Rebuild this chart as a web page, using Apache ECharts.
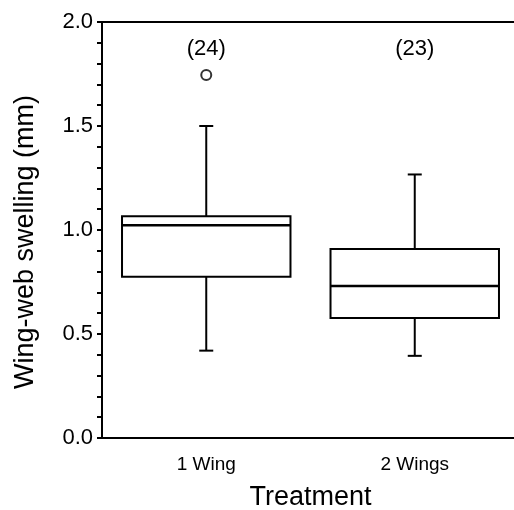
<!DOCTYPE html>
<html>
<head>
<meta charset="utf-8">
<script src="https://cdn.jsdelivr.net/npm/echarts@6/dist/echarts.min.js"></script>
<style>
  html, body { margin: 0; padding: 0; background: #fff; }
  #main { width: 514px; height: 510px; }
</style>
</head>
<body>
<div id="main"></div>
<script>
// data
var treatments = ['1 Wing', '2 Wings'];
var lowWhisker = [0.42, 0.395];
var q1 = [0.775, 0.577];
var medians = [1.023, 0.731];
var q3 = [1.066, 0.909];
var highWhisker = [1.50, 1.267];
var outliers = [[0, 1.745]];
var sampleSizes = ['(24)', '(23)'];
var countLabelY = 1.87;
var yTicks = [0, 0.5, 1.0, 1.5, 2.0];

var font = 'Liberation Sans, Arial, Helvetica, sans-serif';

var boxData = treatments.map(function (t, i) {
    return [i, lowWhisker[i], q1[i], medians[i], q3[i], highWhisker[i]];
});
var countData = sampleSizes.map(function (s, i) {
    return { value: [i, countLabelY], label: { formatter: s } };
});

function renderBox(params, api) {
    var x = api.value(0);
    var lo = api.coord([x, api.value(1)]);
    var b1 = api.coord([x, api.value(2)]);
    var md = api.coord([x, api.value(3)]);
    var b3 = api.coord([x, api.value(4)]);
    var hi = api.coord([x, api.value(5)]);
    var bw = api.size([1, 0])[0] * 0.808;
    var cap = 14;
    var cx = lo[0];
    var st = { stroke: '#000', lineWidth: 2, fill: null };
    return {
        type: 'group',
        children: [
            { type: 'line', shape: { x1: cx, y1: hi[1], x2: cx, y2: b3[1] }, style: st },
            { type: 'line', shape: { x1: cx - cap / 2, y1: hi[1], x2: cx + cap / 2, y2: hi[1] }, style: st },
            { type: 'line', shape: { x1: cx, y1: b1[1], x2: cx, y2: lo[1] }, style: st },
            { type: 'line', shape: { x1: cx - cap / 2, y1: lo[1], x2: cx + cap / 2, y2: lo[1] }, style: st },
            { type: 'rect', shape: { x: cx - bw / 2, y: b3[1], width: bw, height: b1[1] - b3[1] }, style: st },
            { type: 'line', shape: { x1: cx - bw / 2, y1: md[1], x2: cx + bw / 2, y2: md[1] }, style: { stroke: '#000', lineWidth: 2.5 } }
        ]
    };
}

var myChart = echarts.init(document.getElementById('main'));
var options = {
    animation: false,
    backgroundColor: '#fff',
    grid: { left: 102, right: -5, top: 22, bottom: 72, outerBoundsMode: 'none' },
    xAxis: [{
        type: 'category',
        data: treatments,
        boundaryGap: true,
        name: 'Treatment',
        nameLocation: 'middle',
        nameGap: 46,
        nameTextStyle: { fontFamily: font, fontSize: 27, color: '#000' },
        axisLine: { show: true, lineStyle: { color: '#000', width: 2 } },
        axisTick: { show: false },
        axisLabel: { margin: 17, fontFamily: font, fontSize: 19, color: '#000' },
        splitLine: { show: false }
    }, {
        type: 'category',
        data: treatments,
        position: 'top',
        axisLine: { show: true, lineStyle: { color: '#000', width: 2 } },
        axisTick: { show: false },
        axisLabel: { show: false },
        splitLine: { show: false }
    }],
    yAxis: {
        type: 'value',
        min: yTicks[0],
        max: yTicks[yTicks.length - 1],
        interval: 0.5,
        name: 'Wing-web swelling (mm)',
        nameLocation: 'middle',
        nameRotate: 90,
        nameGap: 63,
        nameTextStyle: { fontFamily: font, fontSize: 27, color: '#000', padding: [0, 24, 0, 0] },
        axisLine: { show: true, lineStyle: { color: '#000', width: 2 } },
        axisTick: { show: true, inside: false, length: 5, lineStyle: { color: '#000', width: 2 } },
        minorTick: { show: true, splitNumber: 5, length: 5, lineStyle: { color: '#000', width: 2 } },
        axisLabel: {
            margin: 9, fontFamily: font, fontSize: 22, color: '#000',
            formatter: function (v) { return v.toFixed(1); }
        },
        splitLine: { show: false }
    },
    series: [{
        type: 'custom',
        renderItem: renderBox,
        data: boxData,
        encode: { x: 0, y: [1, 2, 3, 4, 5] },
        z: 3
    }, {
        type: 'scatter',
        data: outliers,
        symbol: 'emptyCircle',
        symbolSize: 10,
        itemStyle: { color: '#000', borderColor: '#000', borderWidth: 2.2 },
        z: 4
    }, {
        type: 'scatter',
        data: countData,
        symbolSize: 0,
        itemStyle: { opacity: 0 },
        label: {
            show: true, position: 'inside', opacity: 1,
            fontFamily: font, fontSize: 22, color: '#000'
        }
    }]
};
myChart.setOption(options);
</script>
</body>
</html>
